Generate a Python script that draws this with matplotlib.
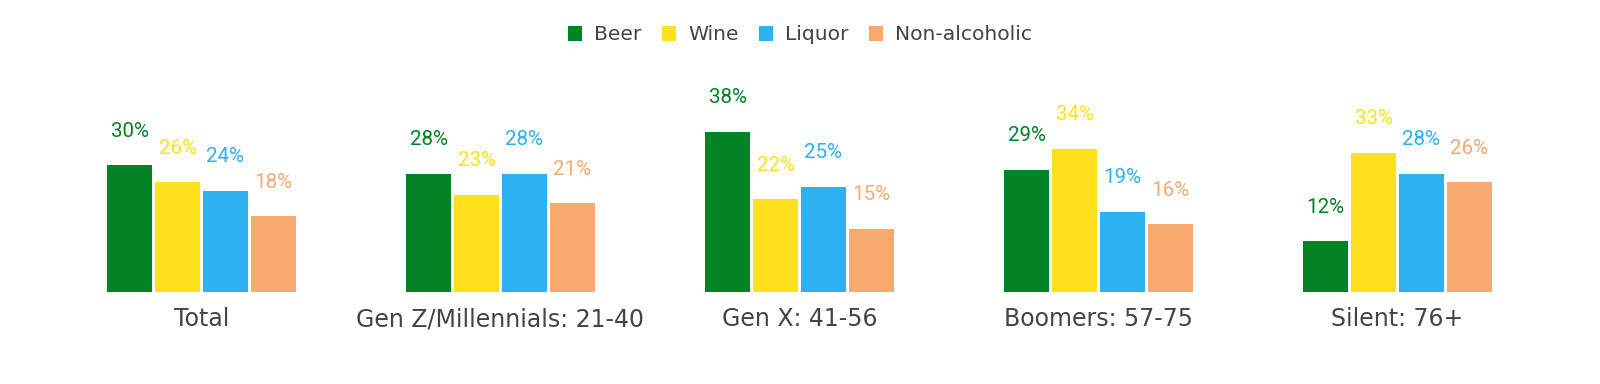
import matplotlib
matplotlib.use("Agg")
import matplotlib.pyplot as plt
from matplotlib.patches import Patch
import numpy as np

categories = ["Total", "Gen Z/Millennials: 21-40", "Gen X: 41-56", "Boomers: 57-75", "Silent: 76+"]
series_names = ["Beer", "Wine", "Liquor", "Non-alcoholic"]
beer = [30, 28, 38, 29, 12]
wine = [26, 23, 22, 34, 33]
liquor = [24, 28, 25, 19, 28]
nonalc = [18, 21, 15, 16, 26]
colors = ["#008325", "#FFE01B", "#2DB1F0", "#F7A96F"]

series = [beer, wine, liquor, nonalc]

fig = plt.figure(figsize=(16, 3.84), dpi=100)
ppu = 4.22
ax = fig.add_axes([52/1600, (384-292)/384, 1495/1600, 45*ppu/384])

x = np.arange(len(categories))
step = 0.16
width = 0.151
for j, (vals, c) in enumerate(zip(series, colors)):
    pos = x + (j - 1.5) * step
    ax.bar(pos, vals, width=width, color=c, edgecolor="none")
    for px, v in zip(pos, vals):
        ax.annotate(f"{v}%", (px, v), xytext=(0, 34), textcoords="offset pixels",
                    ha="center", va="center", color=c, fontsize=14.8,
                    family=["Roboto", "DejaVu Sans"], annotation_clip=False)

ax.set_xlim(-0.5, 4.5)
ax.set_ylim(0, 45)
ax.set_xticks(x)
ax.set_xticklabels(categories, fontsize=17, color="#444444", family=["DejaVu Sans"])
ax.tick_params(axis="x", length=0, pad=11)
ax.set_yticks([])
for s in ax.spines.values():
    s.set_visible(False)

handles = [Patch(facecolor=c, edgecolor="none", label=n) for n, c in zip(series_names, colors)]
leg = fig.legend(handles=handles, loc="center", bbox_to_anchor=(0.5, 1 - 35/384), ncol=4,
                 frameon=False, handlelength=0.7, handleheight=0.7, handletextpad=0.6,
                 columnspacing=1.0, prop={"family": ["DejaVu Sans"], "size": 14.6})
for t in leg.get_texts():
    t.set_color("#444444")

fig.savefig("out.png", dpi=100)
